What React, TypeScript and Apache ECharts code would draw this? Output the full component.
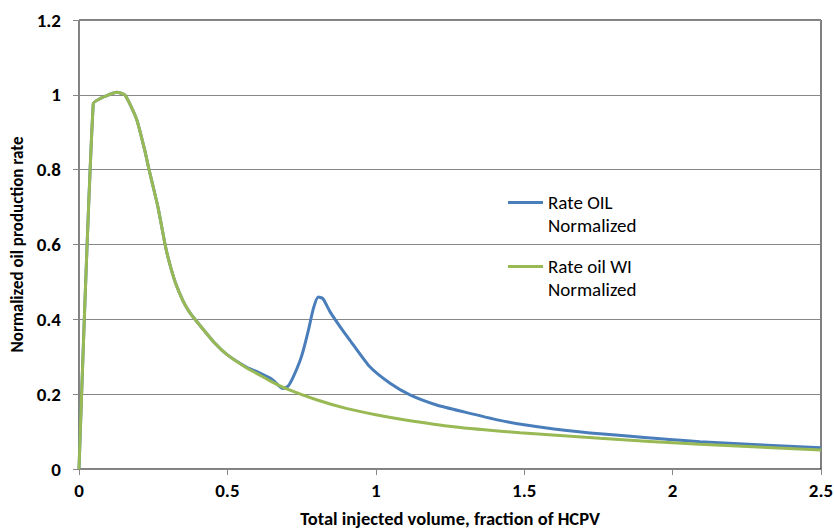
import React, { useEffect, useRef } from "react";
import * as echarts from "echarts";

const oilX = [0, 0.048, 0.071, 0.1, 0.127, 0.155, 0.194, 0.222, 0.236, 0.266, 0.29, 0.305, 0.324, 0.35, 0.37, 0.391, 0.458, 0.5, 0.565, 0.6, 0.65, 0.687, 0.705, 0.722, 0.745, 0.756, 0.773, 0.79, 0.806, 0.822, 0.846, 0.88, 0.913, 0.98, 1.048, 1.115, 1.205, 1.3, 1.418, 1.5, 1.6, 1.755, 2.092, 2.5];
const oilY = [0, 0.976, 0.99, 1.0, 1.007, 0.999, 0.935, 0.85, 0.8, 0.7, 0.6, 0.55, 0.5, 0.45, 0.422, 0.4, 0.336, 0.305, 0.272, 0.26, 0.24, 0.215, 0.222, 0.246, 0.29, 0.318, 0.371, 0.43, 0.46, 0.455, 0.42, 0.38, 0.344, 0.273, 0.229, 0.198, 0.171, 0.152, 0.13, 0.118, 0.107, 0.094, 0.073, 0.057];

const wiX = [0, 0.048, 0.071, 0.1, 0.127, 0.155, 0.194, 0.222, 0.236, 0.266, 0.29, 0.305, 0.324, 0.35, 0.37, 0.391, 0.458, 0.5, 0.565, 0.6, 0.65, 0.7, 0.8, 0.9, 1.0, 1.1, 1.261, 1.486, 1.755, 2.092, 2.5];
const wiY = [0, 0.976, 0.99, 1.0, 1.007, 0.999, 0.935, 0.85, 0.8, 0.7, 0.6, 0.55, 0.5, 0.45, 0.422, 0.4, 0.336, 0.305, 0.27, 0.255, 0.233, 0.214, 0.185, 0.162, 0.145, 0.131, 0.113, 0.097, 0.082, 0.066, 0.051];

const seriesNames = ["Rate OIL\nNormalized", "Rate oil WI\nNormalized"];
const seriesColors = ["#4A7EBB", "#98B954"];

const xAxisTitle = "Total injected volume, fraction of HCPV";
const yAxisTitle = "Normalized oil production rate";

const FONT = 'Carlito, "Noto Sans", sans-serif';

export default function App() {
  const ref = useRef<HTMLDivElement>(null);
  useEffect(() => {
    if (!ref.current) return;
    const chart = echarts.init(ref.current, undefined, { renderer: "svg" });
    const pairs = (xs: number[], ys: number[]) => xs.map((x, i) => [x, ys[i]]);
    const legendCommon = (name: string, top: number) => ({
      data: [name],
      left: 508,
      top,
      orient: "vertical",
      padding: 0,
      itemWidth: 35,
      itemHeight: 14,
      icon: "path://M0,0 L35,0 L35,3 L0,3 Z",
      formatter: (n: string) => " \n" + n,
      textStyle: {
        fontFamily: FONT,
        fontSize: 19,
        color: "#000",
        lineHeight: 23,
      },
    });
    chart.setOption({
      animation: false,
      backgroundColor: "#fff",
      grid: {
        left: 79,
        right: 13,
        top: 20,
        bottom: 61,
        show: true,
        borderColor: "#000",
        borderWidth: 1,
        outerBoundsMode: "none",
        containLabel: false,
      },
      legend: [legendCommon(seriesNames[0], 168), legendCommon(seriesNames[1], 232)],
      xAxis: {
        type: "value",
        min: 0,
        max: 2.5,
        interval: 0.5,
        name: xAxisTitle,
        nameLocation: "middle",
        nameGap: 40,
        nameTextStyle: { fontFamily: FONT, fontSize: 18.5, fontWeight: "bold", color: "#000" },
        axisLine: { show: true, lineStyle: { color: "#868686", width: 1 } },
        axisTick: { show: true, inside: false, length: 6, lineStyle: { color: "#868686" } },
        axisLabel: { fontFamily: FONT, fontSize: 19, fontWeight: "bold", color: "#000", margin: 12 },
        splitLine: { show: false },
      },
      yAxis: {
        type: "value",
        min: 0,
        max: 1.2,
        interval: 0.2,
        name: yAxisTitle,
        nameLocation: "middle",
        nameGap: 48,
        nameTextStyle: { fontFamily: FONT, fontSize: 17, fontWeight: "bold", color: "#000" },
        axisLine: { show: true, lineStyle: { color: "#868686", width: 1 } },
        axisTick: { show: true, inside: false, length: 6, lineStyle: { color: "#868686" } },
        axisLabel: { fontFamily: FONT, fontSize: 19, fontWeight: "bold", color: "#000", margin: 18 },
        splitLine: { show: true, lineStyle: { color: "#878787", width: 1 } },
      },
      series: [
        {
          name: seriesNames[1],
          type: "line",
          data: pairs(wiX, wiY),
          showSymbol: false,
          smooth: 0.2,
          lineStyle: { color: seriesColors[1], width: 3 },
          itemStyle: { color: seriesColors[1] },
          z: 2,
        },
        {
          name: seriesNames[0],
          type: "line",
          data: pairs(oilX, oilY),
          showSymbol: false,
          smooth: 0.2,
          lineStyle: { color: seriesColors[0], width: 3 },
          itemStyle: { color: seriesColors[0] },
          z: 1,
        },
      ],
    });
    return () => chart.dispose();
  }, []);
  return <div ref={ref} style={{ width: 834, height: 530, position: "absolute", left: 0, top: 0 }} />;
}
